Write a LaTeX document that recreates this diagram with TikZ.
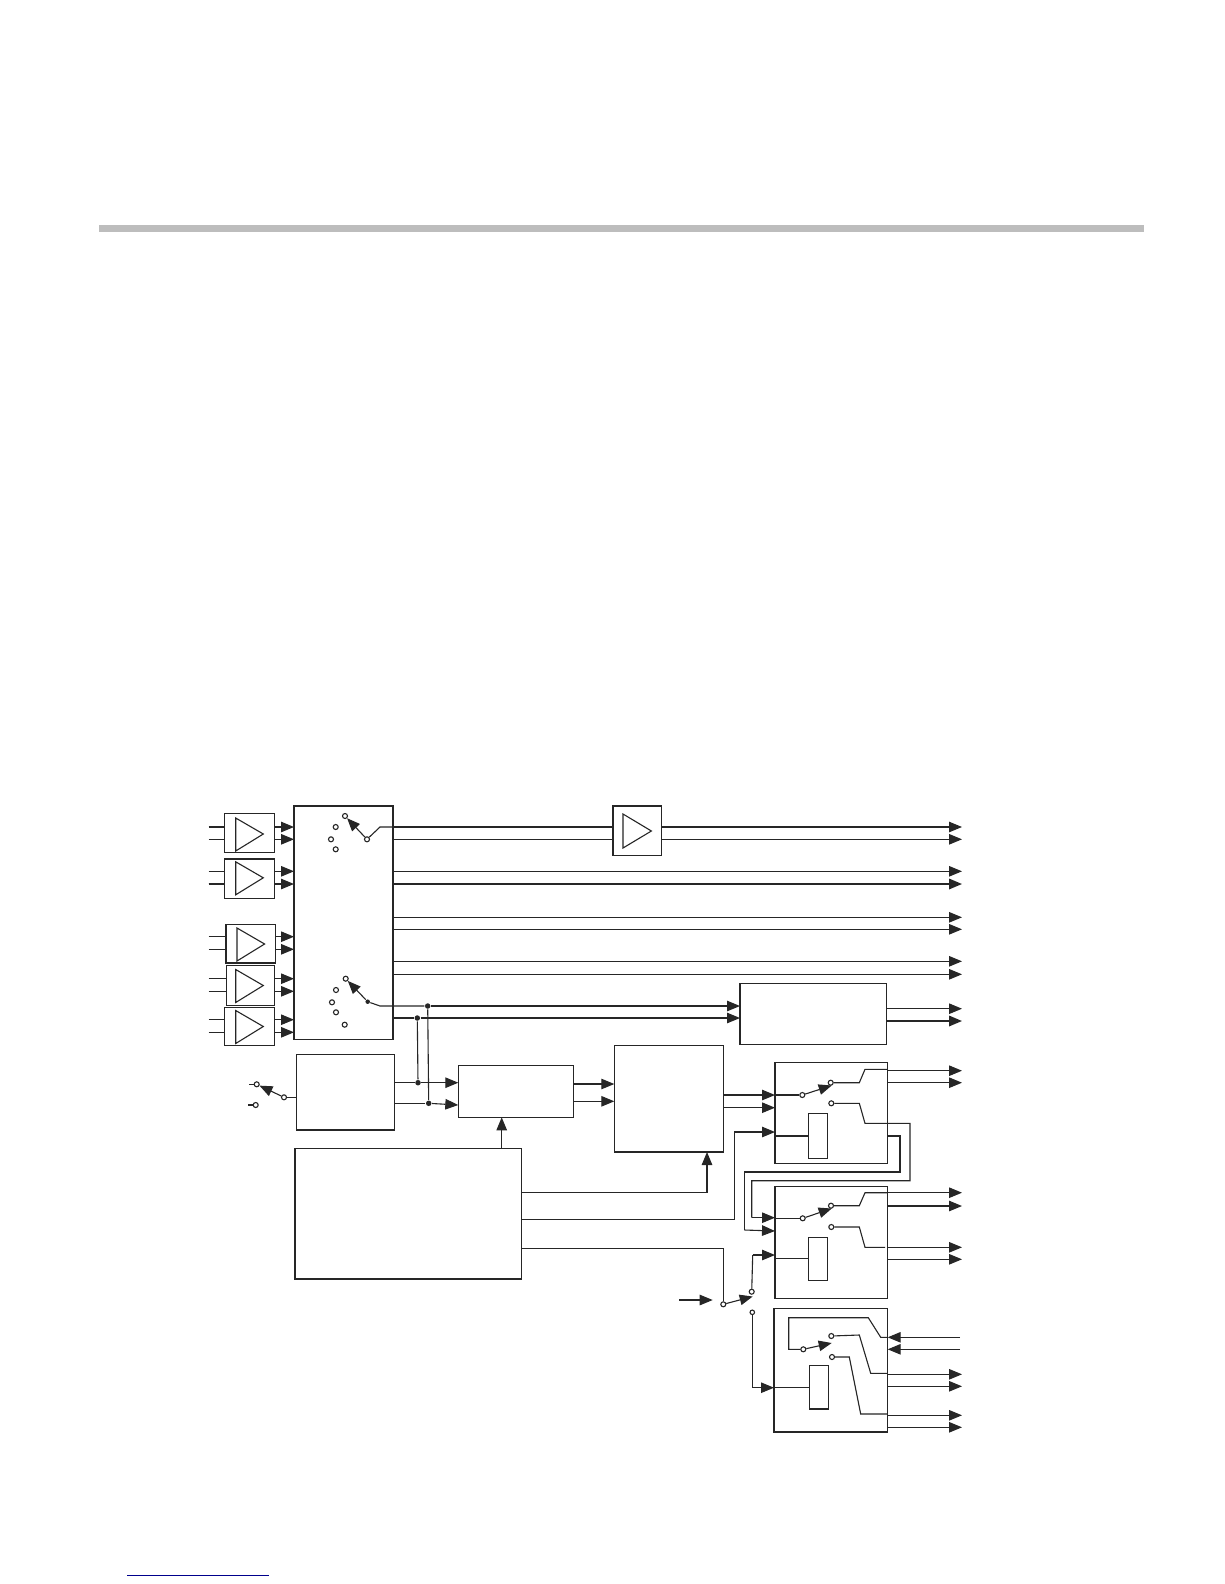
\documentclass[tikz,border=0pt]{standalone}
\usepackage{tikz}
\usetikzlibrary{arrows.meta}

\begin{document}
\begin{tikzpicture}[
    x=1pt, y=-1pt,
    line width=1.1pt, color=black!85,
    box/.style={rectangle, draw, fill=white, inner sep=0pt, outer sep=0pt},
    contact/.style={circle, draw, fill=white, inner sep=0pt, minimum size=5pt},
    dot/.style={circle, fill=black!85, inner sep=0pt, minimum size=5.5pt},
    arrow/.style={-{Triangle[length=13pt, width=10.5pt]}}
  ]
    \useasboundingbox (0,0) rectangle (1224,1584);
    \fill[black!26] (99,225) rectangle (1144,231.7);
    \draw[blue!55!black, line width=1pt] (127,1575) -- (269,1575);

    \coordinate (inl) at (208.7,0);
    \coordinate (out) at (962,0);

    \node[box, minimum width=99pt, minimum height=233.3pt] (sel) at (343.5,922.65) {};
    \node[box, minimum width=48.6pt, minimum height=49.4pt] (buf) at (637.3,830.7) {};
    \node[box, minimum width=146.5pt, minimum height=60.6pt] (filt) at (813.25,1014) {};
    \node[box, minimum width=97.6pt, minimum height=75.7pt] (clk) at (345.5,1092.15) {};
    \node[box, minimum width=115pt, minimum height=52pt] (mix) at (515.8,1091.3) {};
    \node[box, minimum width=109pt, minimum height=106.3pt] (conv) at (668.8,1098.85) {};
    \node[box, minimum width=226.7pt, minimum height=130.7pt] (ctrl) at (408.35,1213.65) {};
    \node[box, minimum width=112.7pt, minimum height=100.6pt] (sw1) at (831.35,1113) {};
    \node[box, minimum width=112.7pt, minimum height=111.8pt] (sw2) at (831.35,1242.6) {};
    \node[box, minimum width=113.7pt, minimum height=123.3pt] (sw3) at (830.85,1370.35) {};
    \node[box, minimum width=19pt, minimum height=44.6pt] (reg1) at (817.8,1136) {};
    \node[box, minimum width=19pt, minimum height=43pt] (reg2) at (817.8,1258.8) {};
    \node[box, minimum width=18.6pt, minimum height=43.3pt] (reg3) at (819,1387.35) {};

    \foreach \amp/\cx/\cy/\bw/\bh/\tx/\ty/\rowa/\rowb in {
        ampa/249.5/833/49.6/39.7/249.5/834.5/827/839.3,
        ampb/249.5/878.8/49.6/39.7/249.5/878.3/871.3/884,
        ampc/250.8/943.8/49.7/38.3/250.8/944.5/936.7/949.3,
        ampd/250.2/985.2/48.3/39.7/249.5/986/978.7/991.3,
        ampe/249.5/1026.7/49.6/38/249.5/1027/1019.7/1032.3} {
      \node[box, minimum width=\bw pt, minimum height=\bh pt] (\amp) at (\cx,\cy) {};
      \draw (\tx-13.8,\ty-16.5) -- (\tx+13.8,\ty-0.5) -- (\tx-13.8,\ty+16.5) -- cycle;
      \draw (inl |- 0,\rowa) -- (\amp.west |- 0,\rowa);
      \draw (inl |- 0,\rowb) -- (\amp.west |- 0,\rowb);
      \draw[arrow] (\amp.east |- 0,\rowa) -- (sel.west |- 0,\rowa);
      \draw[arrow] (\amp.east |- 0,\rowb) -- (sel.west |- 0,\rowb);
    }
    \draw[line width=1.8pt] (inl |- 0,884) -- (ampb.west |- 0,884);

    \foreach \name/\px/\py in {ta/345/816, tb/335.7/827, tc/331/839.3, td/335.7/849.3,
        ba/345.7/978.7, bb/336/990, bc/332/1002.3, bd/336/1012.3, be/344.7/1024.7,
        ka/256.7/1084.3, kb/255.7/1105, kp/284/1097.3, tp/367/839.3} {
      \node[contact] (\name) at (\px,\py) {};
    }
    \node[dot, minimum size=4.5pt] (bp) at (367.7,1001.7) {};
    \draw[arrow] (tp) -- (ta);
    \draw (tp) -- (380,827) -- (sel.east |- 0,827);
    \draw[arrow] (bp) -- (ba);
    \draw[arrow] (kp) -- (ka);
    \draw (kp) -- (clk.west |- kp);
    \draw (ka) -- ++(-7.5,0);
    \draw (kb) -- ++(-7.5,0);

    \foreach \y in {827,839.3} {
      \draw (sel.east |- 0,\y) -- (buf.west |- 0,\y);
      \draw[arrow] (buf.east |- 0,\y) -- (out |- 0,\y);
    }
    \draw (buf.west) ++(10,-16.7) -- ++(28.4,17) -- ++(-28.4,17) -- cycle;
    \foreach \y/\lw in {871.3/1.1, 884/1.8, 917.3/1.1, 929.3/1.1, 961.3/1.1, 974.3/1.1} {
      \draw[arrow, line width=\lw pt] (sel.east |- 0,\y) -- (out |- 0,\y);
    }

    \node[dot] (da) at (427.7,1006) {};
    \node[dot] (db) at (417.3,1018) {};
    \node[dot] (dc) at (418,1082.7) {};
    \node[dot] (dd) at (428.7,1103.3) {};
    \draw (bp) -- (380,1006) -- (da);
    \draw[arrow] (da) -- (filt.west |- da);
    \draw (sel.east |- db) -- (db);
    \draw[arrow] (db) -- (filt.west |- db);
    \draw (da) -- (dd);
    \draw (db) -- (dc);
    \draw (clk.east |- dc) -- (dc);
    \draw (clk.east |- dd) -- (dd);
    \draw[arrow] (dc) -- (mix.west |- dc);
    \draw[arrow] (dd) -- (mix.west |- 0,1105);

    \draw[arrow] (filt.east |- 0,1008.7) -- (out |- 0,1008.7);
    \draw[arrow, line width=1.8pt] (filt.east |- 0,1021) -- (out |- 0,1021);

    \draw[arrow] (mix.east |- 0,1084) -- (conv.west |- 0,1084);
    \draw[arrow] (mix.east |- 0,1101.3) -- (conv.west |- 0,1101.3);
    \draw[arrow] (ctrl.north -| 501.7,0) -- (mix.south -| 501.7,0);
    \draw[arrow] (ctrl.east |- 0,1192.3) -- (707,1192.3) -- (conv.south -| 707,0);
    \draw[arrow] (ctrl.east |- 0,1219.7) -- (734.5,1219.7) -- (734.5,1132) -- (sw1.west |- 0,1132);

    \node[contact] (pa) at (802.3,1095) {};
    \node[contact] (ua) at (830.7,1082.7) {};
    \node[contact] (la) at (831.3,1103.3) {};
    \draw[arrow] (conv.east |- pa) -- (sw1.west |- pa);
    \draw[arrow] (conv.east |- 0,1107.7) -- (sw1.west |- 0,1107.7);
    \draw (sw1.west |- pa) -- (pa);
    \draw[arrow] (pa) -- (831.7,1085.5);
    \draw (ua) -- (859.3,1082.7) -- (865,1069.3) -- (sw1.east |- 0,1069.3);
    \draw (la) -- (859.3,1103.3) -- (865,1123.3) -- (910,1123.3) -- (910,1180.7)
      -- (751.7,1180.7) -- (751.7,1217.7);
    \draw[arrow] (751.7,1217.7) -- (sw2.west |- 0,1217.7);
    \draw (sw1.east |- 0,1136) -- (900,1136) -- (900,1172) -- (744.3,1172) -- (744.3,1230);
    \draw[arrow] (744.3,1230) -- (sw2.west |- 0,1231);
    \draw (sw1.west |- reg1) -- (reg1);
    \foreach \y in {1070.7,1082.7} {
      \draw[arrow] (sw1.east |- 0,\y) -- (out |- 0,\y);
    }

    \node[contact] (pb) at (802.7,1218.3) {};
    \node[contact] (ub) at (831,1205.7) {};
    \node[contact] (lb) at (831.3,1227) {};
    \draw (sw2.west |- pb) -- (pb);
    \draw[arrow] (pb) -- (831.7,1208.5);
    \draw (ub) -- (859.3,1205.7) -- (865,1192.7) -- (sw2.east |- 0,1192.7);
    \draw (lb) -- (859.3,1227) -- (865,1247.3) -- (885,1247.3);
    \draw (sw2.west |- reg2) -- (reg2);
    \foreach \y in {1192.7,1206,1247.3,1259.3} {
      \draw[arrow] (sw2.east |- 0,\y) -- (out |- 0,\y);
    }

    \node[contact] (pc) at (723.3,1304.3) {};
    \node[contact] (uc) at (751.7,1291.7) {};
    \node[contact, minimum size=4.5pt] (lc) at (752.3,1312.3) {};
    \coordinate (selin) at (679,1300);
    \draw[arrow] (selin) -- (712.7,1300);
    \draw (ctrl.east |- 0,1248.3) -- (723.3,1248.3) -- (pc);
    \draw[arrow] (pc) -- (752.7,1296.5);
    \draw (uc) -- (752.7,1255);
    \draw[arrow] (752.7,1255) -- (sw2.west |- 0,1255);
    \draw (lc) -- (752.3,1387.7);
    \draw[arrow] (752.3,1387.7) -- (sw3.west |- 0,1387.7);
    \draw (sw3.west |- reg3) -- (reg3);

    \node[contact] (pd) at (803.3,1349.3) {};
    \node[contact] (ud) at (831.3,1336) {};
    \node[contact] (ld) at (832,1357) {};
    \coordinate (inr) at (960,0);
    \draw[arrow] (inr |- 0,1337.3) -- (sw3.east |- 0,1337.3);
    \draw[arrow] (inr |- 0,1349.3) -- (sw3.east |- 0,1349.3);
    \draw (sw3.east |- 0,1337.3) -- (880.7,1337.3) -- (868.3,1317.7) -- (788.7,1317.7)
      -- (788.7,1349.3) -- (pd);
    \draw[arrow] (pd) -- (831.7,1343);
    \draw (ud) -- (859.3,1335) -- (870.7,1373.3) -- (sw3.east |- 0,1373.3);
    \draw (ld) -- (849.3,1357) -- (860.7,1414) -- (sw3.east |- 0,1414);
    \foreach \y in {1374.3,1386.3,1415.3,1427.3} {
      \draw[arrow] (sw3.east |- 0,\y) -- (out |- 0,\y);
    }
  \end{tikzpicture}
\end{document}
